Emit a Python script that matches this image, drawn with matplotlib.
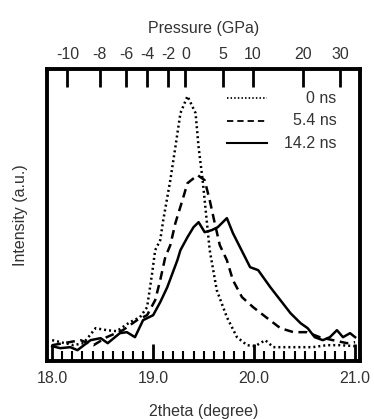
import matplotlib

matplotlib.use("Agg")
import matplotlib.pyplot as plt
from matplotlib.ticker import MultipleLocator

plt.rcParams["font.family"] = ["Liberation Sans", "DejaVu Sans"]

# 0 ns (dotted)
tt_0 = [18.00, 18.21, 18.31, 18.43, 18.54, 18.64, 18.77, 18.87, 18.94, 18.99,
        19.02, 19.07, 19.10, 19.17, 19.22, 19.27, 19.34, 19.42, 19.45, 19.49,
        19.53, 19.56, 19.63, 19.73, 19.83, 19.93, 20.01, 20.11, 20.19, 20.33,
        20.46, 20.58, 20.72, 20.85, 21.00]
int_0 = [21, 16, 18, 33, 31, 30, 39, 44, 54, 88,
         111, 121, 141, 181, 214, 248, 265, 248, 214, 181,
         141, 111, 71, 44, 24, 16, 15, 21, 14, 14,
         14, 14, 16, 16, 15]

# 5.4 ns (dashed)
tt_5 = [18.00, 18.28, 18.41, 18.54, 18.70, 18.84, 18.94, 19.02, 19.07, 19.12,
        19.17, 19.22, 19.29, 19.34, 19.44, 19.51, 19.56, 19.61, 19.66, 19.73,
        19.79, 19.88, 19.99, 20.13, 20.26, 20.39, 20.52, 20.65, 20.78, 20.92,
        21.00]
int_5 = [16, 21, 16, 24, 31, 41, 46, 61, 81, 104,
         116, 138, 161, 178, 186, 181, 161, 138, 116, 101,
         81, 64, 54, 43, 33, 29, 29, 24, 21, 18,
         19]

# 14.2 ns (solid)
tt_14 = [18.00, 18.08, 18.18, 18.25, 18.38, 18.48, 18.55, 18.67, 18.74, 18.82,
         18.90, 19.00, 19.07, 19.14, 19.24, 19.27, 19.34, 19.40, 19.45, 19.51,
         19.58, 19.64, 19.73, 19.79, 19.86, 19.96, 20.04, 20.16, 20.26, 20.36,
         20.46, 20.53, 20.60, 20.68, 20.75, 20.82, 20.88, 20.95, 21.00]
int_14 = [15, 13, 14, 11, 21, 23, 18, 28, 29, 24,
          41, 46, 59, 74, 101, 111, 124, 134, 139, 129,
          131, 134, 143, 128, 114, 94, 91, 74, 61, 48,
          38, 33, 24, 21, 24, 31, 24, 28, 24]

# top axis: pressure labels and their 2theta positions
p_labels = ["-10", "-8", "-6", "-4", "-2", "0", "5", "10", "20", "30"]
p_pos = [18.15, 18.47, 18.73, 18.94, 19.15, 19.32, 19.69, 19.99, 20.48, 20.85]

series = [
    (tt_0, int_0, "0 ns", (0, (0.8, 1.2))),
    (tt_5, int_5, "5.4 ns", (0, (3.5, 2.2))),
    (tt_14, int_14, "14.2 ns", "-"),
]

txt = "#333333"
fs = 11.5
fig = plt.figure(figsize=(3.74, 4.19), dpi=100)
ax = fig.add_axes([0.126, 0.138, 0.837, 0.697])

for x, y, lab, ls in series:
    ax.plot(x, y, color="black", linestyle=ls, linewidth=1.8)

ax.set_xlim(17.95, 21.05)
ax.set_ylim(0, 292)
ax.set_yticks([])
ax.xaxis.set_major_locator(MultipleLocator(1.0))
ax.xaxis.set_minor_locator(MultipleLocator(0.1))
ax.xaxis.set_major_formatter(lambda v, pos: f"{v:.1f}")
ax.tick_params(axis="x", which="major", direction="in", length=12, width=2,
               labelsize=fs, colors="black", labelcolor=txt, pad=7)
ax.tick_params(axis="x", which="minor", direction="in", length=7, width=1.5)
for s in ax.spines.values():
    s.set_linewidth(2.8)
ax.set_xlabel("2theta (degree)", fontsize=fs, color=txt, labelpad=13)
ax.set_ylabel("Intensity (a.u.)", fontsize=fs, color=txt, labelpad=14)

top = ax.secondary_xaxis("top")
top.set_xticks(p_pos, p_labels)
top.tick_params(direction="in", length=13, width=2, labelsize=fs,
                labelcolor=txt, pad=5)
top.set_xlabel("Pressure (GPa)", fontsize=fs, color=txt, labelpad=10)

# legend drawn by hand so the labels can be right-aligned
for i, (x, y, lab, ls) in enumerate(series):
    yy = 0.90 - i * 0.077
    ax.plot([0.575, 0.703], [yy, yy], transform=ax.transAxes, color="black",
            linestyle=ls, linewidth=1.5 if ls == "-" else 1.3)
    ax.text(0.925, yy, lab, transform=ax.transAxes, ha="right", va="center",
            fontsize=fs, color=txt)

fig.savefig("out.png", dpi=100)
